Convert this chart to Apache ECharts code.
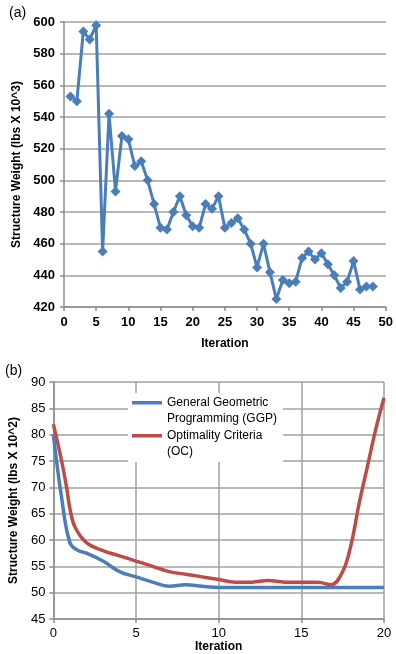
<!DOCTYPE html>
<html>
<head>
<meta charset="utf-8">
<script src="https://cdn.jsdelivr.net/npm/echarts@6/dist/echarts.min.js"></script>
<style>
  html, body { margin: 0; padding: 0; background: #fff; }
  #chart { width: 396px; height: 654px; }
</style>
</head>
<body>
<div id="chart"></div>
<script>
// (a) iteration history
var iterA = [1, 2, 3, 4, 5, 6, 7, 8, 9, 10, 11, 12, 13, 14, 15, 16, 17, 18, 19, 20, 21, 22, 23, 24,
             25, 26, 27, 28, 29, 30, 31, 32, 33, 34, 35, 36, 37, 38, 39, 40, 41, 42, 43, 44, 45, 46, 47, 48];
var weightA = [553, 550, 594, 589, 598, 455, 542, 493, 528, 526, 509, 512, 500, 485, 470, 469, 480, 490, 478, 471, 470, 485, 482, 490,
               470, 473, 476, 469, 460, 445, 460, 442, 425, 437, 435, 436, 451, 455, 450, 454, 447, 440, 432, 436, 449, 431, 433, 433];

// (b) GGP vs OC
var iterGGP = [0, 0.5, 1, 1.5, 2, 3, 4, 5, 6, 7, 8, 9, 10, 12, 15, 20];
var weightGGP = [80, 68, 59.5, 58, 57.5, 56, 54, 53, 52, 51.2, 51.5, 51.2, 51, 51, 51, 51];
var iterOC = [0, 0.5, 0.8, 1, 1.3, 2, 3, 4, 5, 6, 7, 8, 9, 10, 11, 12, 13, 14, 15, 16, 16.8, 17.5, 18, 18.5, 19, 19.5, 20];
var weightOC = [82, 75, 70, 66, 62.5, 59.5, 58, 57, 56, 55, 54, 53.5, 53, 52.5, 52, 52, 52.3, 52, 52, 52, 51.5, 54, 59, 67, 74, 81, 87];

function pairs(xs, ys) {
    return xs.map(function (x, i) {
        return [x, ys[i]];
    });
}

var font = 'Liberation Sans';
var gridLine = {show: true, lineStyle: {color: '#a0a0a0', width: 1.5}};
var axisLine = {show: true, lineStyle: {color: '#8c8c8c', width: 1.5}};
var tick = {show: true, inside: false, length: 4, lineStyle: {color: '#8c8c8c', width: 1.5}};
// line swatch sitting at the top of the icon box, so it lines up with the first text line
var swatch = 'path://M0,0H30V3.5H0Z M29.9,19.9H30V20H29.9Z';

var chart = echarts.init(document.getElementById('chart'));

var option = {
    animation: false,
    backgroundColor: '#fff',
    textStyle: {fontFamily: font},
    title: [
        {text: '(a)', left: 4, top: 1, textStyle: {fontSize: 14, fontWeight: 'normal', color: '#000', fontFamily: font}},
        {text: '(b)', left: 0, top: 359, textStyle: {fontSize: 14, fontWeight: 'normal', color: '#000', fontFamily: font}}
    ],
    grid: [
        {left: 64, top: 22, width: 325, height: 285},
        {left: 49, top: 382, width: 335, height: 238}
    ],
    legend: {
        left: 128, top: 393,
        orient: 'vertical',
        backgroundColor: '#fff',
        padding: [2, 6, 2, 4],
        itemGap: 1,
        itemWidth: 30,
        itemHeight: 20,
        icon: swatch,
        data: ['General Geometric\nProgramming (GGP)', 'Optimality Criteria\n(OC)'],
        textStyle: {fontSize: 12, color: '#000', fontFamily: font, lineHeight: 16}
    },
    xAxis: [
        {
            gridIndex: 0, type: 'value', min: 0, max: 50, interval: 5,
            name: 'Iteration', nameLocation: 'middle', nameGap: 31,
            nameTextStyle: {fontSize: 12, fontWeight: 'bold', color: '#000'},
            axisLine: axisLine, axisTick: tick, splitLine: {show: false},
            axisLabel: {fontSize: 13, color: '#000', fontWeight: 'bold', margin: 9}
        },
        {
            gridIndex: 1, type: 'value', min: 0, max: 20, interval: 5,
            name: 'Iteration', nameLocation: 'middle', nameGap: 22,
            nameTextStyle: {fontSize: 12, fontWeight: 'bold', color: '#000'},
            axisLine: axisLine, axisTick: tick, splitLine: gridLine,
            axisLabel: {fontSize: 13, color: '#000', margin: 8}
        }
    ],
    yAxis: [
        {
            gridIndex: 0, type: 'value', min: 420, max: 600, interval: 20,
            name: 'Structure Weight (lbs X 10^3)', nameLocation: 'middle', nameGap: 38, nameRotate: 90,
            nameTextStyle: {fontSize: 12, fontWeight: 'bold', color: '#000'},
            axisLine: axisLine, axisTick: tick, splitLine: gridLine,
            axisLabel: {fontSize: 13, color: '#000', fontWeight: 'bold', margin: 9}
        },
        {
            gridIndex: 1, type: 'value', min: 45, max: 90, interval: 5,
            name: 'Structure Weight (lbs X 10^2)', nameLocation: 'middle', nameGap: 33, nameRotate: 90,
            nameTextStyle: {fontSize: 12, fontWeight: 'bold', color: '#000'},
            axisLine: axisLine, axisTick: tick, splitLine: gridLine,
            axisLabel: {fontSize: 13, color: '#000', margin: 8}
        }
    ],
    series: [
        {
            name: 'Weight',
            type: 'line',
            xAxisIndex: 0, yAxisIndex: 0,
            data: pairs(iterA, weightA),
            symbol: 'diamond',
            symbolSize: 10,
            color: '#4a7ebb',
            lineStyle: {width: 3, color: '#4a7ebb'},
            itemStyle: {color: '#4a7ebb'}
        },
        {
            name: 'General Geometric\nProgramming (GGP)',
            type: 'line',
            xAxisIndex: 1, yAxisIndex: 1,
            data: pairs(iterGGP, weightGGP),
            smooth: 0.4,
            showSymbol: false,
            color: '#4a7ebb',
            lineStyle: {width: 3.5, color: '#4a7ebb'}
        },
        {
            name: 'Optimality Criteria\n(OC)',
            type: 'line',
            xAxisIndex: 1, yAxisIndex: 1,
            data: pairs(iterOC, weightOC),
            smooth: 0.4,
            showSymbol: false,
            color: '#be4b48',
            lineStyle: {width: 3.5, color: '#be4b48'}
        }
    ]
};

chart.setOption(option);
</script>
</body>
</html>
